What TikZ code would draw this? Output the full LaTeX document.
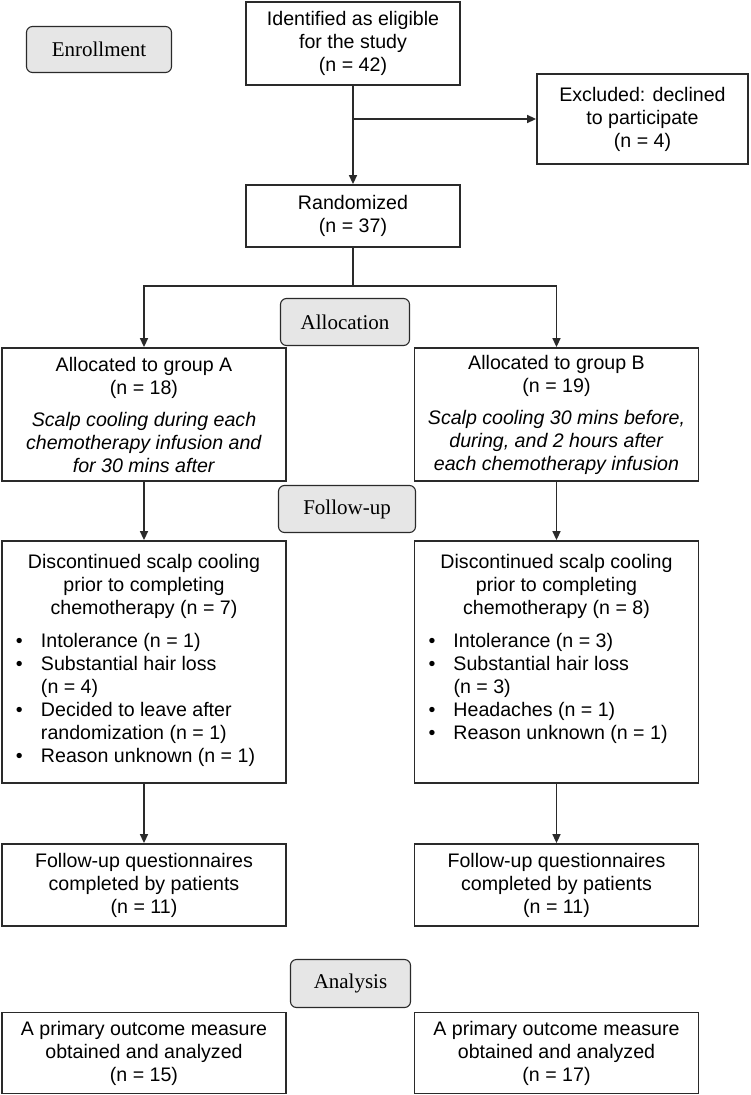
\documentclass[tikz,border=0pt]{standalone}
\usepackage{fontspec}
\setmainfont{Liberation Sans}
\newfontfamily\labserif{Liberation Serif}
\usetikzlibrary{arrows.meta}
\definecolor{boxc}{HTML}{2A2A2A}
\definecolor{labfill}{HTML}{E6E6E6}
\newcommand{\blt}{\hspace*{7pt}\makebox[25pt][l]{\textbullet}}
\newcommand{\cnt}{\hspace*{32pt}}
\begin{document}
\begin{tikzpicture}[x=1pt,y=-1pt,
 box/.style={draw=boxc,line width=1.8pt,fill=white,align=center,inner sep=0pt,font=\fontsize{19.6}{23}\selectfont},
 lab/.style={draw=boxc,line width=1.1pt,fill=labfill,rounded corners=6pt,inner sep=0pt,font=\labserif\fontsize{21}{24}\selectfont},
 arr/.style={draw=boxc,line width=1.5pt,-{Triangle[length=9pt,width=8pt]}},
 ln/.style={draw=boxc,line width=1.5pt}]
\useasboundingbox (0,0) rectangle (750,1095);
\node[box,minimum width=214pt,minimum height=83pt] (ident) at (353,43.5) {Identified as eligible\\for the study\\(n = 42)};
\node[lab,minimum width=145pt,minimum height=46pt] (enr) at (99,49.5) {Enrollment};
\node[box,minimum width=211pt,minimum height=90pt] (excl) at (642.5,119) {Excluded: declined\\to participate\\(n = 4)};
\node[box,minimum width=214pt,minimum height=62pt] (rand) at (353,216) {Randomized\\(n = 37)};
\coordinate (split) at (353,286);
\node[lab,minimum width=129pt,minimum height=47pt] (alloc) at (345,322) {Allocation};
\node[box,minimum width=284pt,minimum height=133pt] (gA) at (144,414.5) {Allocated to group A\\(n = 18)\\[9pt]\textit{Scalp cooling during each}\\\textit{chemotherapy infusion and}\\\textit{for 30 mins after}};
\node[box,minimum width=284pt,minimum height=133pt] (gB) at (556.5,414.5) {Allocated to group B\\(n = 19)\\[9pt]\textit{Scalp cooling 30 mins before,}\\\textit{during, and 2 hours after}\\\textit{each chemotherapy infusion}};
\node[lab,minimum width=137pt,minimum height=47pt] (fu) at (347,509) {Follow-up};
\node[box,minimum width=284pt,minimum height=242pt] (dA) at (144,662) {\parbox{270pt}{\centering Discontinued scalp cooling\\prior to completing\\chemotherapy (n = 7)\par\vspace{10pt}\raggedright
\blt Intolerance (n = 1)\\
\blt Substantial hair loss\\
\cnt (n = 4)\\
\blt Decided to leave after\\
\cnt randomization (n = 1)\\
\blt Reason unknown (n = 1)\strut}};
\node[box,minimum width=284pt,minimum height=242pt] (dB) at (556.5,662) {\parbox{270pt}{\centering Discontinued scalp cooling\\prior to completing\\chemotherapy (n = 8)\par\vspace{10pt}\raggedright
\blt Intolerance (n = 3)\\
\blt Substantial hair loss\\
\cnt (n = 3)\\
\blt Headaches (n = 1)\\
\blt Reason unknown (n = 1)\\
\strut}};
\node[box,minimum width=284pt,minimum height=82pt] (qA) at (144,885) {Follow-up questionnaires\\completed by patients\\(n = 11)};
\node[box,minimum width=284pt,minimum height=82pt] (qB) at (556.5,885) {Follow-up questionnaires\\completed by patients\\(n = 11)};
\node[lab,minimum width=120pt,minimum height=48pt] (ana) at (350.5,983.5) {Analysis};
\node[box,minimum width=284pt,minimum height=81pt] (oA) at (144,1053) {A primary outcome measure\\obtained and analyzed\\(n = 15)};
\node[box,minimum width=284pt,minimum height=81pt] (oB) at (556.5,1053) {A primary outcome measure\\obtained and analyzed\\(n = 17)};
\draw[arr] (ident.south) -- (rand.north);
\draw[arr] (ident.south |- excl.west) -- (excl.west);
\draw[ln] (rand.south) -- (split);
\draw[arr] (split) -| (gA.north);
\draw[arr] (split) -| (gB.north);
\draw[arr] (gA.south) -- (dA.north);
\draw[arr] (gB.south) -- (dB.north);
\draw[arr] (dA.south) -- (qA.north);
\draw[arr] (dB.south) -- (qB.north);
\end{tikzpicture}
\end{document}
